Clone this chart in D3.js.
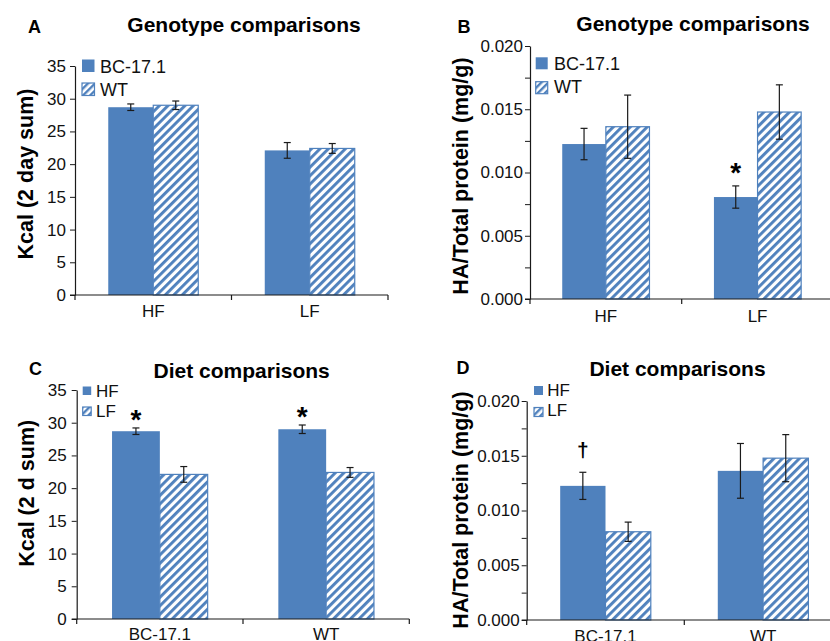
<!DOCTYPE html>
<html>
<head>
<meta charset="utf-8">
<script src="https://cdn.jsdelivr.net/npm/d3@7"></script>
<style>
  html, body { margin: 0; padding: 0; background: #fff; }
  svg { display: block; font-family: "Liberation Sans", Arial, sans-serif; }
</style>
</head>
<body>
<svg id="chart" width="830" height="641"></svg>
<script>
// ---------------- data ----------------
const diets = ["HF", "LF"];
const genotypes = ["BC-17.1", "WT"];

const kcalBC = [28.7, 22.1];      // HF, LF
const kcalBCErr = [0.5, 1.2];
const kcalWT = [29.0, 22.4];
const kcalWTErr = [0.65, 0.75];

const haBC = [0.01225, 0.00806];  // HF, LF
const haBCErr = [0.00124, 0.00088];
const haWT = [0.01362, 0.01478];
const haWTErr = [0.0025, 0.00215];

const kcalTicks = [0, 5, 10, 15, 20, 25, 30, 35];
const haTicks = [0, 0.005, 0.010, 0.015, 0.020];
const haMinorTicks = [0.0025, 0.0075, 0.0125, 0.0175];

const titles = ["Genotype comparisons", "Genotype comparisons", "Diet comparisons", "Diet comparisons"];
const panelLetters = ["A", "B", "C", "D"];
const yLabels = ["Kcal (2 day sum)", "HA/Total protein (mg/g)", "Kcal (2 d sum)", "HA/Total protein (mg/g)"];

// significance marks: [category, series, symbol]
const marksB = [["LF", "BC-17.1", "*"]];
const marksC = [["BC-17.1", "HF", "*"], ["WT", "HF", "*"]];
const marksD = [["BC-17.1", "HF", "\u2020"]];

// ---------------- build tables ----------------
function genotypeRows(bc, bcE, wt, wtE) {
  const rows = [];
  diets.forEach((d, i) => {
    rows.push({ cat: d, series: genotypes[0], v: bc[i], e: bcE[i] });
    rows.push({ cat: d, series: genotypes[1], v: wt[i], e: wtE[i] });
  });
  return rows;
}
function dietRows(bc, bcE, wt, wtE) {
  const rows = [];
  [[bc, bcE], [wt, wtE]].forEach((arr, gi) => {
    diets.forEach((d, i) => {
      rows.push({ cat: genotypes[gi], series: d, v: arr[0][i], e: arr[1][i] });
    });
  });
  return rows;
}

const BLUE = "#4f81bd";
const INK = "#1a1a1a";
const svg = d3.select("#chart");

const defs = svg.append("defs");
const pat = defs.append("pattern")
  .attr("id", "hatch").attr("patternUnits", "userSpaceOnUse")
  .attr("width", 6).attr("height", 6)
  .attr("patternTransform", "rotate(45)");
pat.append("rect").attr("width", 6).attr("height", 6).attr("fill", "#fff");
pat.append("rect").attr("x", 0).attr("width", 2.9).attr("height", 6).attr("fill", BLUE);

const patS = defs.append("pattern")
  .attr("id", "hatchSmall").attr("patternUnits", "userSpaceOnUse")
  .attr("width", 5).attr("height", 5)
  .attr("patternTransform", "rotate(45)");
patS.append("rect").attr("width", 5).attr("height", 5).attr("fill", "#fff");
patS.append("rect").attr("x", 0).attr("width", 2.4).attr("height", 5).attr("fill", BLUE);

function drawPanel(cfg) {
  const g = svg.append("g");
  const x = d3.scaleBand().domain(cfg.cats).range([cfg.x0, cfg.x1]).padding(0);
  const bw = x.bandwidth();
  const frac = 0.575;
  const xi = d3.scaleBand().domain(cfg.series)
    .range([bw * (1 - frac) / 2, bw * (1 + frac) / 2]).padding(0);
  const y = d3.scaleLinear().domain([0, cfg.ymax]).range([cfg.y0, cfg.y1]);

  // bars
  g.selectAll("rect.bar").data(cfg.rows).enter().append("rect")
    .attr("class", "bar")
    .attr("x", d => x(d.cat) + xi(d.series))
    .attr("y", d => y(d.v))
    .attr("width", xi.bandwidth())
    .attr("height", d => y(0) - y(d.v))
    .attr("fill", d => d.series === cfg.series[0] ? BLUE : "url(#hatch)")
    .attr("stroke", d => d.series === cfg.series[0] ? "none" : BLUE)
    .attr("stroke-width", 1.2);

  // error bars
  const eb = g.selectAll("g.err").data(cfg.rows).enter().append("g").attr("class", "err")
    .attr("stroke", INK).attr("stroke-width", 1.2);
  const cx = d => x(d.cat) + xi(d.series) + xi.bandwidth() / 2;
  eb.append("line").attr("x1", cx).attr("x2", cx)
    .attr("y1", d => y(d.v - d.e)).attr("y2", d => y(d.v + d.e));
  eb.append("line").attr("x1", d => cx(d) - 3.5).attr("x2", d => cx(d) + 3.5)
    .attr("y1", d => y(d.v - d.e)).attr("y2", d => y(d.v - d.e));
  eb.append("line").attr("x1", d => cx(d) - 3.5).attr("x2", d => cx(d) + 3.5)
    .attr("y1", d => y(d.v + d.e)).attr("y2", d => y(d.v + d.e));

  // significance marks
  cfg.marks.forEach(m => {
    const r = cfg.rows.find(d => d.cat === m[0] && d.series === m[1]);
    g.append("text")
      .attr("x", cx(r))
      .attr("y", y(r.v + r.e) - cfg.markOffset)
      .attr("text-anchor", "middle")
      .attr("font-weight", "bold")
      .attr("font-size", m[2] === "*" ? 28 : 21)
      .attr("fill", "#000")
      .text(m[2]);
  });

  // y axis
  const ya = g.append("g").attr("transform", `translate(${cfg.x0},0)`)
    .call(d3.axisLeft(y).tickValues(cfg.ticks).tickFormat(cfg.fmt)
      .tickSize(5).tickSizeOuter(0).tickPadding(cfg.tickPad));
  ya.selectAll("text").attr("font-size", 17).attr("fill", "#111").attr("font-family", "Liberation Sans, Arial, sans-serif");
  ya.selectAll("line").attr("stroke", INK);
  ya.select(".domain").attr("stroke", INK).attr("stroke-width", 1.2);
  if (cfg.minor) {
    const ym = g.append("g").attr("transform", `translate(${cfg.x0},0)`)
      .call(d3.axisLeft(y).tickValues(cfg.minor).tickFormat("").tickSize(5).tickSizeOuter(0));
    ym.select(".domain").remove();
    ym.selectAll("line").attr("stroke", INK);
  }

  // x axis
  const xa = g.append("g").attr("transform", `translate(0,${cfg.y0})`)
    .call(d3.axisBottom(x).tickSize(0).tickSizeOuter(0).tickPadding(cfg.xPad));
  xa.selectAll("text").attr("font-size", 17).attr("fill", "#111").attr("font-family", "Liberation Sans, Arial, sans-serif");
  xa.select(".domain").attr("stroke", INK).attr("stroke-width", 1.2)
    .attr("d", `M${cfg.x0 - 5},0H${cfg.x1}`);
  const bounds = cfg.cats.map(c => x(c)).concat([x.range()[1]]);
  xa.selectAll("line.bt").data(bounds).enter().append("line").attr("class", "bt")
    .attr("x1", d => d).attr("x2", d => d).attr("y1", 0).attr("y2", 5)
    .attr("stroke", INK).attr("stroke-width", 1.2);

  // title, letter, y label
  g.append("text").attr("x", cfg.titleX).attr("y", cfg.titleY)
    .attr("text-anchor", "middle").attr("font-weight", "bold").attr("font-size", 21)
    .text(cfg.title);
  g.append("text").attr("x", cfg.letterX).attr("y", cfg.letterY)
    .attr("font-weight", "bold").attr("font-size", 18).text(cfg.letter);
  g.append("text")
    .attr("transform", `translate(${cfg.ylabX},${cfg.ylabY}) rotate(-90)`)
    .attr("text-anchor", "middle").attr("font-weight", "bold").attr("font-size", 21.5)
    .text(cfg.ylab);

  // legend
  cfg.series.forEach((s, i) => {
    const L = cfg.legend;
    g.append("rect")
      .attr("x", L.x).attr("y", L.ys[i])
      .attr("width", L.size).attr("height", L.size)
      .attr("fill", i === 0 ? BLUE : "url(#hatchSmall)")
      .attr("stroke", i === 0 ? "none" : BLUE).attr("stroke-width", 1.2);
    g.append("text").attr("x", L.tx).attr("y", L.bs[i])
      .attr("font-size", L.fs).attr("fill", "#111").text(s);
  });
}

const fmtK = d3.format("d");
const fmtH = d3.format(".3f");

drawPanel({
  rows: genotypeRows(kcalBC, kcalBCErr, kcalWT, kcalWTErr),
  cats: diets, series: genotypes, ymax: 35, ticks: kcalTicks, fmt: fmtK,
  x0: 75, x1: 388, y0: 295, y1: 66, tickPad: 4, xPad: 10,
  title: titles[0], titleX: 244, titleY: 32, letter: panelLetters[0], letterX: 28, letterY: 33,
  ylab: yLabels[0], ylabX: 33, ylabY: 174,
  legend: { x: 82, ys: [59.5, 83], size: 12.5, tx: 100, bs: [72.5, 95.5], fs: 18 },
  marks: [], markOffset: 0
});
drawPanel({
  rows: genotypeRows(haBC, haBCErr, haWT, haWTErr),
  cats: diets, series: genotypes, ymax: 0.020, ticks: haTicks, minor: haMinorTicks, fmt: fmtH,
  x0: 530, x1: 833.4, y0: 299, y1: 46, tickPad: 2, xPad: 11,
  title: titles[1], titleX: 693, titleY: 31, letter: panelLetters[1], letterX: 457.5, letterY: 33,
  ylab: yLabels[1], ylabX: 468, ylabY: 176,
  legend: { x: 535.7, ys: [57.3, 81.7], size: 12, tx: 554, bs: [70, 93.3], fs: 18 },
  marks: marksB, markOffset: 4
});
drawPanel({
  rows: dietRows(kcalBC, kcalBCErr, kcalWT, kcalWTErr),
  cats: genotypes, series: diets, ymax: 35, ticks: kcalTicks, fmt: fmtK,
  x0: 76.7, x1: 409.3, y0: 619, y1: 390, tickPad: 5, xPad: 9,
  title: titles[2], titleX: 241.7, titleY: 378, letter: panelLetters[2], letterX: 29, letterY: 374.5,
  ylab: yLabels[2], ylabX: 33.5, ylabY: 493.3,
  legend: { x: 82.7, ys: [386.5, 407], size: 8.5, tx: 96, bs: [396.5, 416.5], fs: 17 },
  marks: marksC, markOffset: -1
});
drawPanel({
  rows: dietRows(haBC, haBCErr, haWT, haWTErr),
  cats: genotypes, series: diets, ymax: 0.020, ticks: haTicks, minor: haMinorTicks, fmt: fmtH,
  x0: 526.7, x1: 841.9, y0: 620, y1: 401, tickPad: 2, xPad: 9.5,
  title: titles[3], titleX: 677.5, titleY: 376, letter: panelLetters[3], letterX: 456.5, letterY: 374,
  ylab: yLabels[3], ylabX: 467.5, ylabY: 510,
  legend: { x: 534, ys: [386, 407.5], size: 9, tx: 547.3, bs: [395.5, 415.5], fs: 17 },
  marks: marksD, markOffset: 15
});
</script>
</body>
</html>
